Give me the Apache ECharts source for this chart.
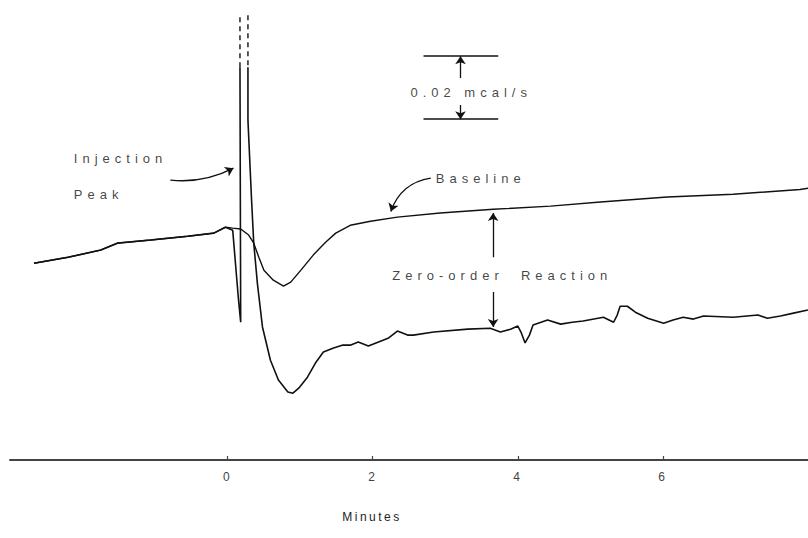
<!DOCTYPE html>
<html>
<head>
<meta charset="utf-8">
<title>Injection peak and zero-order reaction</title>
<script src="https://cdn.jsdelivr.net/npm/echarts@6/dist/echarts.min.js"></script>
<style>
    html, body {
        margin: 0;
        padding: 0;
        background: #ffffff;
    }

    #chart {
        width: 808px;
        height: 538px;
    }

    /* the lettering on the old plot is spaced out wide */
    #chart text[text-anchor="start"] {
        letter-spacing: 5px;
    }

    #chart text[text-anchor="middle"] {
        letter-spacing: 2.5px;
    }
</style>
</head>
<body>
<div id="chart"></div>
<script>
    // signal in units of 0.01 mcal/s, time in minutes after injection
    // trace before injection, shared by both curves
    var sharedTime = [-2.67, -2.20, -1.75, -1.52, -1.06, -0.55, -0.19, -0.03];
    var sharedValue = [6.27, 6.46, 6.69, 6.91, 7.01, 7.13, 7.23, 7.42];

    // baseline run
    var baselineTime = [0.07, 0.18, 0.29, 0.36, 0.43, 0.50, 0.63, 0.77, 0.87, 1.01, 1.18, 1.35, 1.49, 1.69,
        1.97, 2.34, 2.93, 3.66, 4.45, 5.14, 6.06, 6.97, 7.89, 8.00];
    var baselineValue = [7.39, 7.36, 7.17, 6.91, 6.46, 6.05, 5.73, 5.54, 5.67, 6.05, 6.53, 6.94, 7.23, 7.48,
        7.61, 7.74, 7.87, 7.99, 8.09, 8.22, 8.38, 8.47, 8.62, 8.66];

    // reaction run ('-' = pen off the chart at the top of the injection peak)
    var reactionTime = [0.07, 0.15, 0.18, 0.17, 0.22, 0.28, 0.28, 0.33, 0.36, 0.41, 0.48,
        0.59, 0.70, 0.83, 0.90, 0.98, 1.10, 1.21, 1.32, 1.46, 1.58, 1.69, 1.80, 1.94, 2.08, 2.22, 2.34,
        2.48, 2.56, 2.84, 3.31, 3.62, 3.76, 3.90, 4.00, 4.05, 4.10, 4.16, 4.21, 4.41, 4.59, 4.75, 4.90,
        5.18, 5.32, 5.37, 5.41, 5.51, 5.62, 5.79, 6.01, 6.14, 6.28, 6.42, 6.56, 6.97, 7.31, 7.44, 7.62,
        7.80, 8.00];
    var reactionValue = [7.32, 5.10, 4.39, 12.52, '-', 12.52, 10.83, 8.28, 6.91, 5.63, 4.24,
        3.18, 2.55, 2.17, 2.13, 2.29, 2.64, 3.09, 3.44, 3.57, 3.66, 3.66, 3.76, 3.63, 3.76, 3.89, 4.11,
        3.98, 3.98, 4.08, 4.17, 4.20, 4.08, 4.17, 4.27, 4.04, 3.73, 3.98, 4.30, 4.46, 4.33, 4.39, 4.43,
        4.55, 4.39, 4.62, 4.90, 4.90, 4.71, 4.52, 4.36, 4.46, 4.55, 4.49, 4.59, 4.55, 4.62, 4.52, 4.59,
        4.68, 4.78];

    // dashed tops of the injection peak
    var peakLeftTime = [0.17, 0.17];
    var peakLeftValue = [12.52, 14.17];
    var peakRightTime = [0.28, 0.28];
    var peakRightValue = [14.17, 12.52];

    var tickValues = [0, 2, 4, 6];

    // notes
    var noteText = ['Injection', 'Peak', 'Baseline', 'Zero-order  Reaction', '0.02 mcal/s'];
    var noteTime = [-2.12, -2.12, 2.87, 2.27, 2.52];
    var noteValue = [9.62, 8.47, 8.98, 5.89, 11.72];

    // arrows: [from time, from value, to time, to value, curveness]
    var arrowList = [
        [-0.79, 8.92, 0.08, 9.30, -0.15],
        [2.80, 8.98, 2.25, 7.92, -0.3],
        [3.21, 12.17, 3.21, 12.87, 0],
        [3.21, 11.31, 3.21, 10.86, 0],
        [3.66, 6.46, 3.66, 7.87, 0],
        [3.66, 5.35, 3.66, 4.24, 0]
    ];

    // 0.02 mcal/s scale bar
    var scaleBarTime = [2.70, 3.73];
    var scaleBarValue = [12.87, 10.86];

    function zip(t, v) {
        var out = [];
        for (var i = 0; i < t.length; i++) {
            out.push([t[i], v[i]]);
        }
        return out;
    }

    var ink = '#111111';
    var font = '"Liberation Sans", Arial, sans-serif';

    var chart = echarts.init(document.getElementById('chart'), null, {renderer: 'svg'});

    chart.setOption({
        animation: false,
        backgroundColor: '#ffffff',
        grid: {
            left: 10,
            right: 0,
            top: 5,
            bottom: 78
        },
        xAxis: {
            type: 'value',
            min: -3,
            max: 8,
            name: 'Minutes',
            nameLocation: 'middle',
            nameGap: 51,
            nameTextStyle: {
                color: '#222',
                fontFamily: font,
                fontSize: 12,
                padding: [0, 74, 0, 0]
            },
            splitLine: {show: false},
            axisLine: {
                onZero: false,
                lineStyle: {color: '#444', width: 2}
            },
            axisTick: {
                inside: true,
                length: 4,
                customValues: tickValues,
                lineStyle: {color: '#444', width: 1.2}
            },
            axisLabel: {
                customValues: tickValues,
                margin: 11,
                color: '#444',
                fontFamily: font,
                fontSize: 12
            }
        },
        yAxis: {
            type: 'value',
            min: 0,
            max: 14.5,
            show: false,
            splitLine: {show: false}
        },
        series: [
            {
                name: 'Reaction',
                type: 'line',
                data: zip(sharedTime.concat(reactionTime), sharedValue.concat(reactionValue)),
                showSymbol: false,
                connectNulls: false,
                silent: true,
                lineStyle: {color: ink, width: 1.6}
            },
            {
                name: 'Baseline',
                type: 'line',
                data: zip(sharedTime.concat(baselineTime), sharedValue.concat(baselineValue)),
                showSymbol: false,
                silent: true,
                lineStyle: {color: ink, width: 1.4}
            },
            {
                name: 'Peak top left',
                type: 'line',
                data: zip(peakLeftTime, peakLeftValue),
                showSymbol: false,
                silent: true,
                lineStyle: {color: ink, width: 1.4, type: [5, 4]}
            },
            {
                name: 'Peak top right',
                type: 'line',
                data: zip(peakRightTime, peakRightValue),
                showSymbol: false,
                silent: true,
                lineStyle: {color: ink, width: 1.4, type: [5, 4]}
            },
            {
                name: 'Notes',
                type: 'scatter',
                silent: true,
                symbolSize: 0,
                clip: false,
                data: noteText.map(function (s, i) {
                    return {name: s, value: [noteTime[i], noteValue[i]]};
                }),
                label: {
                    show: true,
                    position: 'right',
                    distance: 0,
                    align: 'left',
                    verticalAlign: 'middle',
                    formatter: '{b}',
                    color: '#111',
                    fontFamily: font,
                    fontSize: 13
                }
            },
            {
                name: 'Arrows',
                type: 'lines',
                coordinateSystem: 'cartesian2d',
                silent: true,
                symbol: ['none', 'arrow'],
                symbolSize: 8,
                data: arrowList.map(function (a) {
                    return {
                        coords: [[a[0], a[1]], [a[2], a[3]]],
                        lineStyle: {curveness: a[4]}
                    };
                }),
                lineStyle: {color: ink, width: 1.3, opacity: 1}
            },
            {
                name: 'Scale bar',
                type: 'lines',
                coordinateSystem: 'cartesian2d',
                silent: true,
                symbol: 'none',
                data: scaleBarValue.map(function (v) {
                    return {coords: [[scaleBarTime[0], v], [scaleBarTime[1], v]]};
                }),
                lineStyle: {color: ink, width: 1.5, opacity: 1}
            }
        ]
    });
</script>
</body>
</html>
